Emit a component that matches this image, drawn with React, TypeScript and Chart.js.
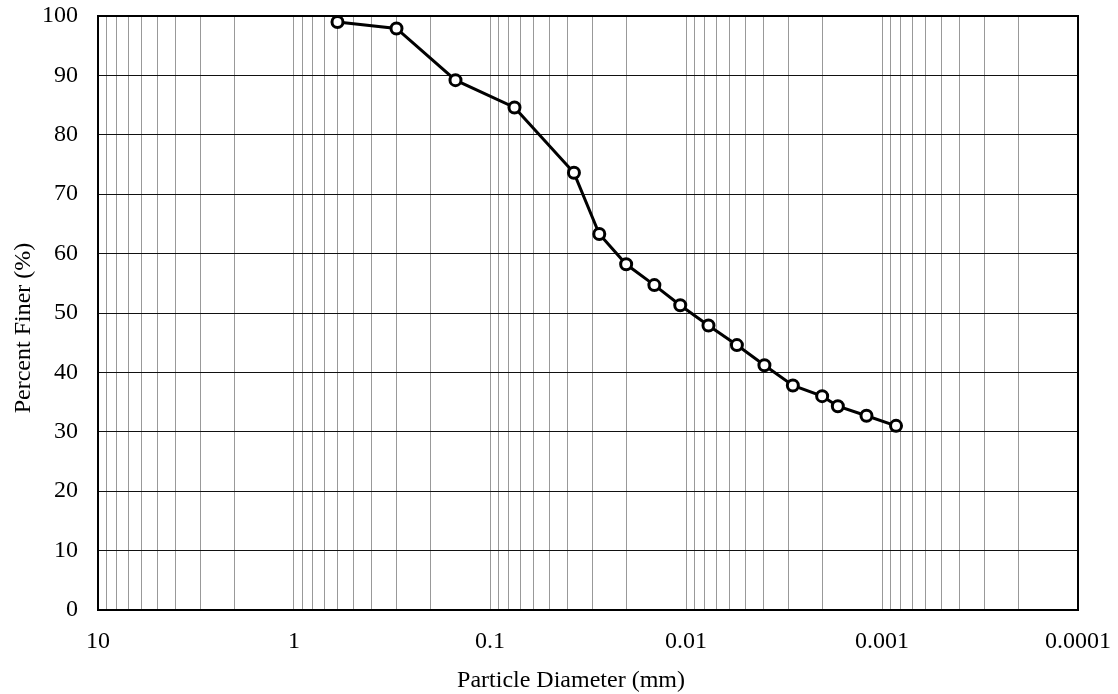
import React, { useEffect, useRef } from "react";
import { Chart, registerables } from "chart.js";

Chart.register(...registerables);

// Grain-size distribution: sieve + hydrometer results
const particleDiameterMm = [
  0.6, 0.3, 0.15, 0.075, 0.0373, 0.0277, 0.0202, 0.0145, 0.0107, 0.00768,
  0.0055, 0.00398, 0.00285, 0.00202, 0.00168, 0.0012, 0.000848,
];
const percentFiner = [
  99.0, 97.9, 89.2, 84.6, 73.6, 63.3, 58.2, 54.7, 51.3, 47.9, 44.6, 41.2, 37.8,
  36.0, 34.3, 32.7, 31.0,
];

const decadeValues = [10, 1, 0.1, 0.01, 0.001, 0.0001];
const decadeLabels = ["10", "1", "0.1", "0.01", "0.001", "0.0001"];
const yTickValues = [0, 10, 20, 30, 40, 50, 60, 70, 80, 90, 100];

const xTitle = "Particle Diameter (mm)";
const yTitle = "Percent Finer (%)";

const FONT_FAMILY = '"Liberation Serif", "Times New Roman", serif';

const frameAndTitles = {
  id: "frameAndTitles",
  afterDraw(chart: any) {
    const { ctx, chartArea } = chart;
    const { left, right, top, bottom } = chartArea;
    ctx.save();
    ctx.strokeStyle = "#000";
    ctx.lineWidth = 2;
    ctx.strokeRect(left, top, right - left, bottom - top);

    ctx.fillStyle = "#000";
    ctx.font = `24px ${FONT_FAMILY}`;
    ctx.textAlign = "center";
    ctx.textBaseline = "alphabetic";
    ctx.fillText(xTitle, (left + right) / 2 - 17, bottom + 77);

    ctx.translate(30, (top + bottom) / 2 + 15);
    ctx.rotate(-Math.PI / 2);
    ctx.fillText(yTitle, 0, 0);
    ctx.restore();
  },
};

function buildLogTicks() {
  const ticks: { value: number }[] = [];
  for (let e = -4; e <= 0; e++) {
    const base = Math.pow(10, e);
    for (let m = 1; m <= 9; m++) {
      ticks.push({ value: Number((m * base).toPrecision(6)) });
    }
  }
  ticks.push({ value: 10 });
  return ticks;
}

function decadeLabel(value: number) {
  for (let i = 0; i < decadeValues.length; i++) {
    if (Math.abs(value - decadeValues[i]) / decadeValues[i] < 1e-6) {
      return decadeLabels[i];
    }
  }
  return "";
}

export default function App() {
  const canvasRef = useRef<HTMLCanvasElement | null>(null);

  useEffect(() => {
    const canvas = canvasRef.current;
    if (!canvas) return;

    const points = particleDiameterMm.map((d, i) => ({ x: d, y: percentFiner[i] }));

    const chart = new Chart(canvas, {
      type: "line",
      data: {
        datasets: [
          {
            data: points,
            borderColor: "#000",
            borderWidth: 3,
            pointRadius: 5.5,
            pointBorderWidth: 3,
            pointBackgroundColor: "#fff",
            pointBorderColor: "#000",
            tension: 0,
          },
        ],
      },
      options: {
        animation: false,
        responsive: false,
        events: [],
        layout: { padding: { top: 16, right: 40, left: 0, bottom: 0 } },
        plugins: {
          legend: { display: false },
          tooltip: { enabled: false },
          title: { display: false },
        },
        scales: {
          x: {
            type: "logarithmic",
            reverse: true,
            min: 0.0001,
            max: 10,
            afterBuildTicks: (scale: any) => {
              scale.ticks = buildLogTicks();
            },
            afterFit: (scale: any) => {
              scale.height = 84;
              scale.paddingLeft = 0;
              scale.paddingRight = 0;
            },
            ticks: {
              autoSkip: false,
              maxRotation: 0,
              minRotation: 0,
              padding: 17,
              color: "#000",
              font: { family: FONT_FAMILY, size: 24 },
              callback: (value: any) => decadeLabel(Number(value)),
            },
            grid: {
              color: "#999",
              lineWidth: 1,
              drawTicks: false,
            },
            border: { display: false },
          },
          y: {
            type: "linear",
            min: 0,
            max: 100,
            afterBuildTicks: (scale: any) => {
              scale.ticks = yTickValues.map((v) => ({ value: v }));
            },
            afterFit: (scale: any) => {
              scale.width = 98;
              scale.paddingTop = 0;
              scale.paddingBottom = 0;
            },
            ticks: {
              padding: 20,
              color: "#000",
              font: { family: FONT_FAMILY, size: 24 },
            },
            grid: {
              color: "#111",
              lineWidth: 1,
              drawTicks: false,
            },
            border: { display: false },
          },
        },
      },
      plugins: [frameAndTitles],
    });

    return () => {
      chart.destroy();
    };
  }, []);

  return (
    <div style={{ position: "absolute", left: 0, top: 0, width: 1118, height: 694, background: "#fff" }}>
      <canvas ref={canvasRef} width={1118} height={694} style={{ display: "block" }} />
    </div>
  );
}
